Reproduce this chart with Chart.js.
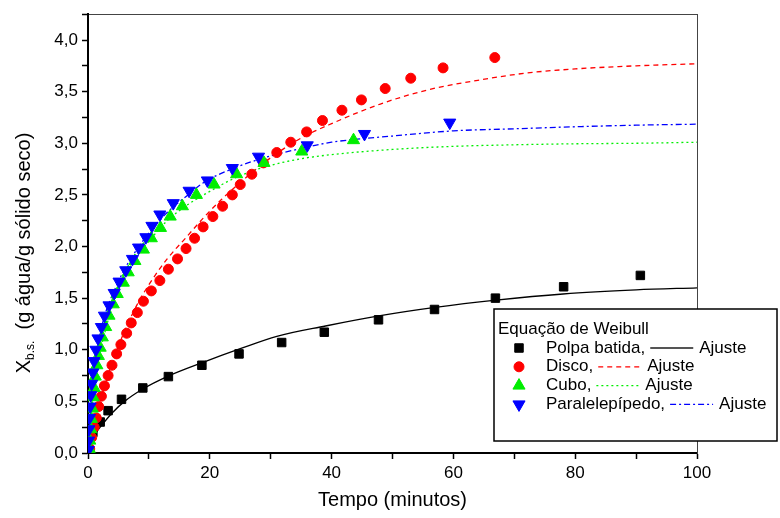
<!DOCTYPE html>
<html>
<head>
<meta charset="utf-8">
<script src="https://cdn.jsdelivr.net/npm/chart.js@4.4.0/dist/chart.umd.min.js"></script>
<style>
  html, body { margin: 0; padding: 0; background: #fff; }
  canvas { display: block; }
</style>
</head>
<body>
<canvas id="chart" width="780" height="518"></canvas>
<script>
// Measured points (tempo em minutos, X b.s.)
const polpaT = [0.8, 2.0, 3.3, 5.5, 9.0, 13.2, 18.7, 24.8, 31.8, 38.8, 47.7, 56.9, 66.9, 78.1, 90.7];
const polpaX = [0.20, 0.30, 0.41, 0.52, 0.63, 0.74, 0.85, 0.96, 1.07, 1.17, 1.29, 1.39, 1.50, 1.61, 1.72];

const discoT = [0.28, 0.6, 1.0, 1.36, 1.75, 2.2, 2.7, 3.3, 3.94, 4.7, 5.4, 6.35, 7.1, 8.1, 9.1, 10.4, 11.8, 13.2, 14.7, 16.1,
                17.5, 18.9, 20.5, 22.1, 23.7, 25.0, 26.9, 28.8, 31.0, 33.3, 35.9, 38.5, 41.7, 44.9, 48.8, 53.0, 58.3, 66.8];
const discoX = [0.04, 0.15, 0.25, 0.34, 0.45, 0.55, 0.65, 0.75, 0.85, 0.96, 1.05, 1.16, 1.26, 1.36, 1.47, 1.57, 1.67, 1.78, 1.88, 1.98,
                2.08, 2.19, 2.29, 2.39, 2.50, 2.60, 2.70, 2.81, 2.91, 3.01, 3.11, 3.22, 3.32, 3.42, 3.53, 3.63, 3.73, 3.83];

const cuboT = [0.2, 0.3, 0.45, 0.55, 0.7, 0.85, 1.0, 1.2, 1.45, 1.7, 2.0, 2.35, 2.9, 3.45, 4.15,
               4.8, 5.8, 6.6, 7.7, 9.1, 10.4, 11.9, 13.5, 15.5, 17.8, 20.7, 24.4, 28.9, 35.1, 43.6];
const cuboX = [0.04, 0.12, 0.23, 0.33, 0.43, 0.54, 0.63, 0.74, 0.85, 0.94, 1.02, 1.12, 1.22, 1.33, 1.44,
               1.54, 1.65, 1.75, 1.86, 1.97, 2.08, 2.18, 2.29, 2.39, 2.50, 2.60, 2.70, 2.81, 2.92, 3.03];

const paraT = [0.05, 0.1, 0.15, 0.25, 0.35, 0.45, 0.6, 0.8, 1.0, 1.3, 1.64, 2.2, 2.7, 3.45, 4.3,
               5.1, 6.2, 7.3, 8.3, 9.5, 10.5, 11.8, 14.0, 16.6, 19.6, 23.7, 28.0, 36.0, 45.4, 59.4];
const paraX = [0.03, 0.12, 0.23, 0.34, 0.45, 0.56, 0.67, 0.78, 0.89, 1.00, 1.11, 1.22, 1.33, 1.43, 1.55,
               1.66, 1.77, 1.88, 1.99, 2.09, 2.20, 2.31, 2.42, 2.54, 2.64, 2.76, 2.87, 2.98, 3.09, 3.20];

// Weibull fit curves
const polpaFitT = [0, 1, 2, 4, 6, 9, 13, 19, 25, 31, 39, 48, 57, 67, 78, 90, 100];
const polpaFitX = [0.09, 0.17, 0.25, 0.39, 0.50, 0.62, 0.74, 0.88, 1.01, 1.13, 1.23, 1.33, 1.41, 1.48, 1.54, 1.58, 1.60];

const discoFitT = [0, 1, 2, 3, 4, 6, 8, 10, 13, 16, 19, 22, 26, 30, 35, 40, 48, 56, 64, 72, 80, 90, 100];
const discoFitX = [0.0, 0.25, 0.50, 0.70, 0.88, 1.18, 1.43, 1.63, 1.88, 2.08, 2.28, 2.46, 2.67, 2.86, 3.05, 3.19, 3.38, 3.52, 3.61, 3.68, 3.72, 3.75, 3.77];

const cuboFitT = [0, 0.5, 1, 2, 3, 4, 6, 8, 10, 13, 16, 19, 24, 29, 35, 40, 50, 60, 70, 80, 90, 100];
const cuboFitX = [0.02, 0.38, 0.62, 0.98, 1.22, 1.42, 1.70, 1.90, 2.05, 2.25, 2.39, 2.50, 2.66, 2.77, 2.85, 2.89, 2.94, 2.97, 2.985, 2.995, 3.0, 3.01];

const paraFitT = [0, 0.5, 1, 2, 3, 4, 6, 8, 10, 13, 16, 19, 24, 29, 35, 40, 50, 60, 70, 80, 90, 100];
const paraFitX = [0.03, 0.45, 0.75, 1.15, 1.38, 1.53, 1.78, 1.97, 2.13, 2.33, 2.48, 2.62, 2.76, 2.86, 2.95, 3.01, 3.07, 3.12, 3.14, 3.16, 3.175, 3.185];

const xTickLabels = [0, 20, 40, 60, 80, 100];
const yTickLabels = ['0,0', '0,5', '1,0', '1,5', '2,0', '2,5', '3,0', '3,5', '4,0'];

const FONT = '"Liberation Sans", Arial, Helvetica, sans-serif';

function toPoints(ts, xs) {
    return ts.map((t, i) => ({ x: t, y: xs[i] }));
}

function markerSet(ts, xs, color, style, radius, rotation, order) {
    return {
        data: toPoints(ts, xs),
        showLine: false,
        pointStyle: style,
        pointRadius: radius,
        pointRotation: rotation,
        pointBackgroundColor: color,
        pointBorderColor: color,
        pointBorderWidth: 1,
        order: order
    };
}

function fitSet(ts, xs, color, dash, order) {
    return {
        data: toPoints(ts, xs),
        showLine: true,
        borderColor: color,
        borderWidth: 1.3,
        borderDash: dash,
        pointRadius: 0,
        cubicInterpolationMode: 'monotone',
        fill: false,
        order: order
    };
}

// rows of the boxed legend
const legendRows = [
    { label: 'Polpa batida,', color: '#000', style: 'rect', radius: 6, rotation: 0, lineColor: '#555', lineWidth: 2, dash: [] },
    { label: 'Disco,', color: '#ff0000', style: 'circle', radius: 5, rotation: 0, lineColor: '#ff0000', lineWidth: 1.3, dash: [5, 4] },
    { label: 'Cubo,', color: '#00ee00', style: 'triangle', radius: 7, rotation: 0, lineColor: '#00ee00', lineWidth: 1.3, dash: [2, 3] },
    { label: 'Paralelepípedo,', color: '#0000ff', style: 'triangle', radius: 7, rotation: 180, lineColor: '#0000ff', lineWidth: 1.3, dash: [6, 3, 2, 3] }
];

const boxLegend = {
    id: 'boxLegend',
    afterDraw(chart) {
        const ctx = chart.ctx;
        ctx.save();
        ctx.fillStyle = '#fff';
        ctx.fillRect(494, 309, 283, 132);
        ctx.strokeStyle = '#000';
        ctx.lineWidth = 1.5;
        ctx.strokeRect(494, 309, 283, 132);

        ctx.fillStyle = '#000';
        ctx.font = '17px ' + FONT;
        ctx.textBaseline = 'middle';
        ctx.textAlign = 'left';
        ctx.fillText('Equação de Weibull', 498, 329);

        legendRows.forEach((row, i) => {
            const y = 348 + i * 18.8;
            // marker
            ctx.save();
            ctx.fillStyle = row.color;
            ctx.strokeStyle = row.color;
            ctx.lineWidth = 1;
            Chart.helpers.drawPoint(ctx, {
                pointStyle: row.style, radius: row.radius, rotation: row.rotation, borderWidth: 1
            }, 519, y);
            ctx.restore();

            // label, sample line, "Ajuste"
            ctx.fillStyle = '#000';
            const w = ctx.measureText(row.label).width;
            ctx.fillText(row.label, 546, y);
            const x0 = 546 + w + 5;
            ctx.save();
            ctx.strokeStyle = row.lineColor;
            ctx.lineWidth = row.lineWidth;
            ctx.setLineDash(row.dash);
            ctx.beginPath();
            ctx.moveTo(x0, y);
            ctx.lineTo(x0 + 43, y);
            ctx.stroke();
            ctx.restore();
            ctx.fillText('Ajuste', x0 + 49, y);
        });
        ctx.restore();
    }
};

// Y axis title with subscript
const yTitle = {
    id: 'yTitle',
    afterDraw(chart) {
        const ctx = chart.ctx;
        const big = '20px ' + FONT;
        const small = '12px ' + FONT;
        ctx.save();
        ctx.translate(24, 253);
        ctx.rotate(-Math.PI / 2);
        ctx.fillStyle = '#000';
        ctx.textBaseline = 'middle';
        ctx.textAlign = 'left';
        ctx.font = big;
        const wX = ctx.measureText('X').width;
        const rest = '  (g água/g sólido seco)';
        const wRest = ctx.measureText(rest).width;
        ctx.font = small;
        const wSub = ctx.measureText('b.s.').width;
        const start = -(wX + wSub + wRest) / 2;
        ctx.font = big;
        ctx.fillText('X', start, 0);
        ctx.font = small;
        ctx.fillText('b.s.', start + wX, 7);
        ctx.font = big;
        ctx.fillText(rest, start + wX + wSub, 0);
        ctx.restore();
    }
};

const ctx = document.getElementById('chart');

new Chart(ctx, {
    type: 'scatter',
    data: {
        datasets: [
            fitSet(polpaFitT, polpaFitX, '#000', [], 10),
            fitSet(discoFitT, discoFitX, '#ff0000', [5, 4], 9),
            fitSet(cuboFitT, cuboFitX, '#00ee00', [2, 3], 8),
            fitSet(paraFitT, paraFitX, '#0000ff', [6, 3, 2, 3], 7),
            markerSet(polpaT, polpaX, '#000', 'rect', 6, 0, 4),
            markerSet(discoT, discoX, '#ff0000', 'circle', 5, 0, 3),
            markerSet(cuboT, cuboX, '#00ee00', 'triangle', 7, 0, 2),
            markerSet(paraT, paraX, '#0000ff', 'triangle', 7, 180, 1)
        ]
    },
    options: {
        responsive: false,
        animation: false,
        layout: { padding: { left: 0, top: 12, right: 83, bottom: 0 } },
        plugins: {
            legend: { display: false },
            tooltip: { enabled: false }
        },
        scales: {
            x: {
                type: 'linear',
                min: 0,
                max: 100,
                afterFit: (scale) => { scale.height = 65; },
                border: { display: true, color: '#000', width: 2 },
                grid: { drawOnChartArea: false, drawTicks: true, tickLength: 6, tickColor: '#000', tickWidth: 1.5 },
                ticks: {
                    stepSize: 10,
                    autoSkip: false,
                    maxRotation: 0,
                    padding: 4,
                    color: '#000',
                    font: { family: FONT, size: 17 },
                    callback: (v) => xTickLabels.includes(v) ? String(v) : ''
                },
                title: {
                    display: true,
                    text: 'Tempo (minutos)',
                    color: '#000',
                    font: { family: FONT, size: 20 },
                    padding: { top: 0, bottom: 6 }
                }
            },
            x2: {
                type: 'linear',
                position: 'top',
                min: 0,
                max: 100,
                afterFit: (scale) => { scale.height = 0; },
                border: { display: true, color: '#444', width: 1 },
                grid: { display: false },
                ticks: { display: false }
            },
            y: {
                type: 'linear',
                min: 0,
                max: 4.25,
                afterFit: (scale) => { scale.width = 88; },
                border: { display: true, color: '#000', width: 2 },
                grid: { drawOnChartArea: false, drawTicks: true, tickLength: 6, tickColor: '#000', tickWidth: 1.5 },
                ticks: {
                    stepSize: 0.25,
                    autoSkip: false,
                    padding: 4,
                    color: '#000',
                    font: { family: FONT, size: 17 },
                    callback: (v) => {
                        const k = Math.round(v * 2);
                        if (Math.abs(v * 2 - k) > 1e-6) return '';
                        return yTickLabels[k] || '';
                    }
                }
            },
            y2: {
                type: 'linear',
                position: 'right',
                min: 0,
                max: 4.25,
                afterFit: (scale) => { scale.width = 0; },
                border: { display: true, color: '#444', width: 1 },
                grid: { display: false },
                ticks: { display: false }
            }
        }
    },
    plugins: [yTitle, boxLegend]
});
</script>
</body>
</html>
